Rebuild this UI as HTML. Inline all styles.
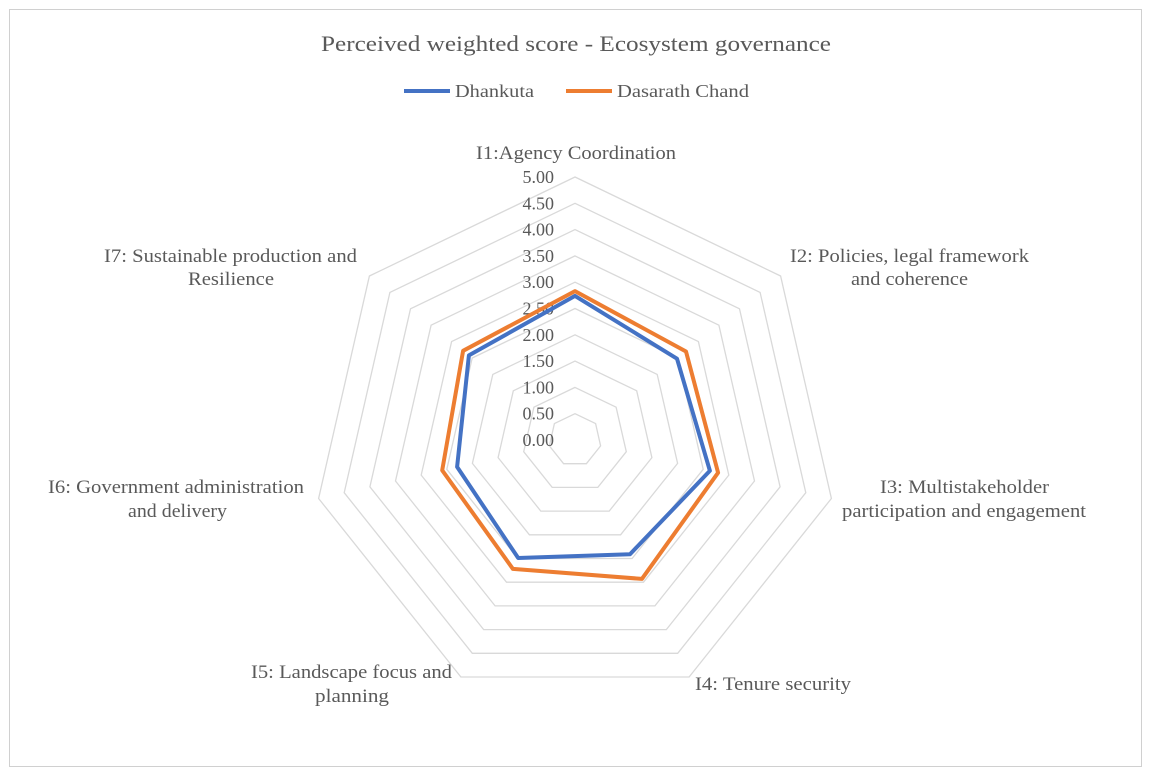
<!DOCTYPE html>
<html><head><meta charset="utf-8">
<style>
html,body{margin:0;padding:0;background:#fff;}
svg{display:block;font-family:"Liberation Serif",serif;}
</style></head>
<body>
<svg id="s" width="1152" height="778" viewBox="0 0 1152 778" xmlns="http://www.w3.org/2000/svg">
<rect x="0" y="0" width="1152" height="778" fill="#fff"/>
<rect x="9.5" y="9.5" width="1132" height="757" fill="none" stroke="#d0d0d0" stroke-width="1"/>
<text x="321" y="51" font-size="22" fill="#595959" textLength="510" lengthAdjust="spacingAndGlyphs">Perceived weighted score - Ecosystem governance</text>
<line x1="404" y1="91" x2="450" y2="91" stroke="#4472C4" stroke-width="4"/>
<text x="455" y="97" font-size="18" fill="#595959" textLength="79" lengthAdjust="spacingAndGlyphs">Dhankuta</text>
<line x1="566" y1="91" x2="612" y2="91" stroke="#ED7D31" stroke-width="4"/>
<text x="617" y="97" font-size="18" fill="#595959" textLength="132" lengthAdjust="spacingAndGlyphs">Dasarath Chand</text>
<g id="g"></g>
<g font-size="18.5" fill="#595959" lengthAdjust="spacingAndGlyphs">
<text x="476" y="159" textLength="200" lengthAdjust="spacingAndGlyphs">I1:Agency Coordination</text>
<text x="790" y="262" textLength="239" lengthAdjust="spacingAndGlyphs">I2: Policies, legal framework</text>
<text x="851" y="285" textLength="117" lengthAdjust="spacingAndGlyphs">and coherence</text>
<text x="880" y="493" textLength="169" lengthAdjust="spacingAndGlyphs">I3: Multistakeholder</text>
<text x="842" y="517" textLength="244" lengthAdjust="spacingAndGlyphs">participation and engagement</text>
<text x="695" y="690" textLength="156" lengthAdjust="spacingAndGlyphs">I4: Tenure security</text>
<text x="251" y="678" textLength="201" lengthAdjust="spacingAndGlyphs">I5: Landscape focus and</text>
<text x="315" y="702" textLength="74" lengthAdjust="spacingAndGlyphs">planning</text>
<text x="48" y="493" textLength="256" lengthAdjust="spacingAndGlyphs">I6: Government administration</text>
<text x="128" y="517" textLength="99" lengthAdjust="spacingAndGlyphs">and delivery</text>
<text x="104" y="262" textLength="253" lengthAdjust="spacingAndGlyphs">I7: Sustainable production and</text>
<text x="188" y="285" textLength="86" lengthAdjust="spacingAndGlyphs">Resilience</text>
</g>
</svg>
<script>
var cx=575,cy=440,R=263,g=document.getElementById('g'),h='';
function pt(k,v){var a=k*2*Math.PI/7,r=R*v/5;return (cx+r*Math.sin(a)).toFixed(1)+','+(cy-r*Math.cos(a)).toFixed(1);}
for(var i=1;i<=10;i++){var p=[];for(var k=0;k<7;k++)p.push(pt(k,i*0.5));h+='<polygon points="'+p.join(' ')+'" fill="none" stroke="#d9d9d9" stroke-width="1.3"/>';}
for(var i=0;i<=10;i++){var y=cy-R*i/10;h+='<text x="554" y="'+(y+6).toFixed(1)+'" text-anchor="end" font-size="18" fill="#595959">'+(i*0.5).toFixed(2)+'</text>';}
var d1=[2.74,2.48,2.63,2.41,2.49,2.30,2.58],d2=[2.83,2.70,2.79,2.93,2.72,2.59,2.72];
function poly(d,c){var p=[];for(var k=0;k<7;k++)p.push(pt(k,d[k]));return '<polygon points="'+p.join(' ')+'" fill="none" stroke="'+c+'" stroke-width="4" stroke-linejoin="round"/>';}
h+=poly(d2,'#ED7D31')+poly(d1,'#4472C4');
g.innerHTML=h;
</script>
</body></html>
